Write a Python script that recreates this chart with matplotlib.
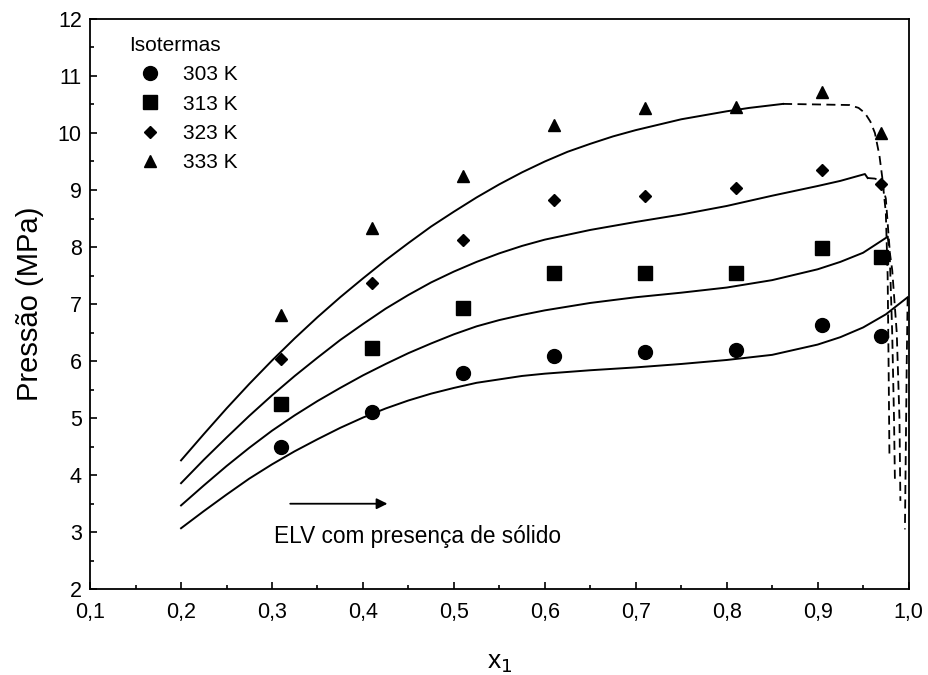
import matplotlib
matplotlib.use('Agg')
import matplotlib.pyplot as plt
from matplotlib.ticker import MultipleLocator, FuncFormatter

plt.rcParams['font.family'] = ['Liberation Sans', 'DejaVu Sans']

# Experimental points
x_exp = [0.31, 0.41, 0.51, 0.61, 0.71, 0.81, 0.905, 0.97]
p_303 = [4.49, 5.10, 5.80, 6.09, 6.16, 6.19, 6.63, 6.44]
p_313 = [5.25, 6.23, 6.93, 7.54, 7.54, 7.54, 7.98, 7.82]
p_323 = [6.04, 7.37, 8.12, 8.82, 8.89, 9.04, 9.35, 9.10]
p_333 = [6.80, 8.33, 9.25, 10.14, 10.44, 10.46, 10.72, 10.00]

# Model curves (ELV branch)
x_303 = [0.200, 0.225, 0.250, 0.275, 0.300, 0.325, 0.350, 0.375, 0.400,
         0.425, 0.450, 0.475, 0.500, 0.525, 0.550, 0.575, 0.600, 0.650,
         0.700, 0.750, 0.800, 0.850, 0.900, 0.925, 0.950, 0.975, 0.999]
m_303 = [3.07, 3.37, 3.66, 3.94, 4.19, 4.42, 4.63, 4.83, 5.01,
         5.17, 5.31, 5.43, 5.53, 5.62, 5.68, 5.74, 5.78, 5.84,
         5.89, 5.95, 6.02, 6.11, 6.29, 6.42, 6.59, 6.82, 7.12]
x_313 = [0.200, 0.225, 0.250, 0.275, 0.300, 0.325, 0.350, 0.375, 0.400,
         0.425, 0.450, 0.475, 0.500, 0.525, 0.550, 0.575, 0.600, 0.650,
         0.700, 0.750, 0.800, 0.850, 0.900, 0.925, 0.950, 0.977]
m_313 = [3.47, 3.82, 4.16, 4.48, 4.78, 5.05, 5.30, 5.53, 5.75,
         5.95, 6.14, 6.31, 6.47, 6.61, 6.72, 6.81, 6.89, 7.02,
         7.12, 7.20, 7.29, 7.42, 7.61, 7.74, 7.90, 8.18]
x_323 = [0.200, 0.225, 0.250, 0.275, 0.300, 0.325, 0.350, 0.375, 0.400,
         0.425, 0.450, 0.475, 0.500, 0.525, 0.550, 0.575, 0.600, 0.650,
         0.700, 0.750, 0.800, 0.850, 0.900, 0.925, 0.952, 0.955]
m_323 = [3.86, 4.27, 4.66, 5.04, 5.40, 5.74, 6.06, 6.37, 6.65,
         6.92, 7.16, 7.38, 7.57, 7.74, 7.89, 8.02, 8.13, 8.30,
         8.44, 8.57, 8.72, 8.90, 9.07, 9.16, 9.28, 9.21]
x_333 = [0.200, 0.225, 0.250, 0.275, 0.300, 0.325, 0.350, 0.375, 0.400,
         0.425, 0.450, 0.475, 0.500, 0.525, 0.550, 0.575, 0.600, 0.625,
         0.650, 0.675, 0.700, 0.750, 0.800, 0.825, 0.862]
m_333 = [4.26, 4.72, 5.17, 5.60, 6.01, 6.40, 6.77, 7.12, 7.45,
         7.77, 8.07, 8.36, 8.62, 8.87, 9.10, 9.31, 9.50, 9.67,
         9.81, 9.94, 10.05, 10.24, 10.38, 10.44, 10.51]

# Model curves (solid present)
xs_333 = [0.862, 0.900, 0.935, 0.945, 0.952, 0.958, 0.963, 0.968, 0.971,
          0.975, 0.977, 0.978, 0.979]
ps_333 = [10.51, 10.50, 10.49, 10.44, 10.35, 10.20, 10.00, 9.60, 9.23,
          8.60, 7.50, 6.00, 4.30]
xs_323 = [0.955, 0.963, 0.970, 0.975, 0.979, 0.982, 0.984, 0.985]
ps_323 = [9.21, 9.20, 9.15, 8.85, 8.00, 6.50, 5.00, 3.90]
xs_313 = [0.977, 0.982, 0.987, 0.990, 0.991]
ps_313 = [8.18, 7.60, 6.50, 5.00, 3.55]
xs_303 = [0.999, 0.998, 0.997, 0.996]
ps_303 = [7.12, 6.00, 4.50, 3.05]

fig = plt.figure(figsize=(9.29, 6.75), dpi=100)
ax = fig.add_axes([0.097, 0.127, 0.881, 0.845])

ms = dict(color='black', linestyle='none')
ax.plot(x_exp, p_303, marker='o', markersize=10, label='303 K', **ms)
ax.plot(x_exp, p_313, marker='s', markersize=10, label='313 K', **ms)
ax.plot(x_exp, p_323, marker='D', markersize=6.5, label='323 K', **ms)
ax.plot(x_exp, p_333, marker='^', markersize=9, label='333 K', **ms)

for xm, pm in [(x_303, m_303), (x_313, m_313), (x_323, m_323), (x_333, m_333)]:
    ax.plot(xm, pm, color='black', lw=1.4)
for xm, pm in [(xs_303, ps_303), (xs_313, ps_313), (xs_323, ps_323), (xs_333, ps_333)]:
    ax.plot(xm, pm, color='black', lw=1.3, linestyle=(0, (5, 3)))

ax.annotate('', xy=(0.43, 3.5), xytext=(0.317, 3.5),
            arrowprops=dict(arrowstyle='-|>', color='black', lw=1.3,
                            mutation_scale=16))
ax.text(0.302, 2.92, 'ELV com presença de sólido', fontsize=16.3,
        va='center', ha='left')

ax.set_xlim(0.1, 1.0)
ax.set_ylim(2, 12)
ax.xaxis.set_major_locator(MultipleLocator(0.1))
ax.xaxis.set_minor_locator(MultipleLocator(0.05))
ax.yaxis.set_major_locator(MultipleLocator(1))
ax.yaxis.set_minor_locator(MultipleLocator(0.5))
ax.xaxis.set_major_formatter(FuncFormatter(lambda v, p: f'{v:.1f}'.replace('.', ',')))
ax.tick_params(which='both', direction='in', top=False, right=False,
               labelsize=15.5, width=1.2)
ax.tick_params(which='major', length=5)
ax.tick_params(axis='x', which='major', pad=9)
ax.tick_params(axis='y', which='major', pad=6)
ax.tick_params(which='minor', length=3)
for s in ax.spines.values():
    s.set_linewidth(1.3)

ax.set_xlabel('x$_1$', fontsize=19, labelpad=20)
ax.set_ylabel('Pressão (MPa)', fontsize=21, labelpad=10)

leg = ax.legend(title='Isotermas', loc='upper left', frameon=False,
                fontsize=15, title_fontsize=15, bbox_to_anchor=(0.037, 0.985),
                handletextpad=0.6, labelspacing=0.5, borderaxespad=0)
leg._legend_box.align = 'left'

fig.savefig('out.png', dpi=100)
